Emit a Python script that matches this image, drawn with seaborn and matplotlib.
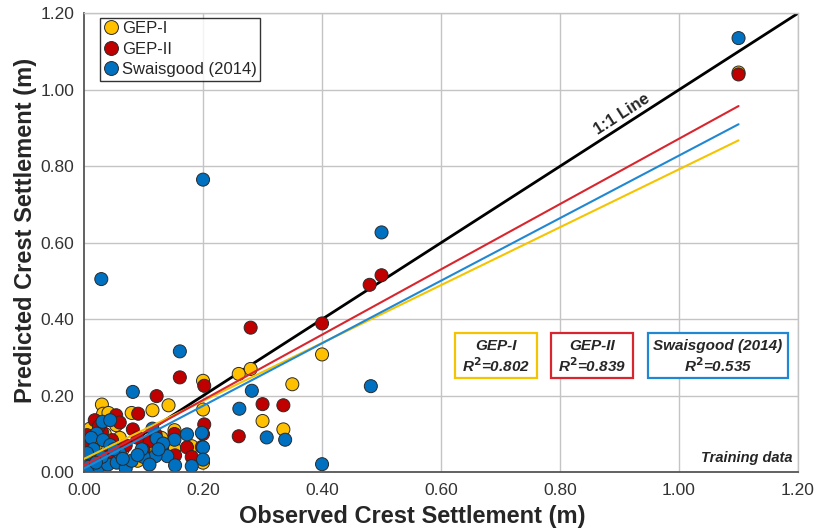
import numpy as np
import pandas as pd
import matplotlib
matplotlib.use("Agg")
import matplotlib.pyplot as plt
import seaborn as sns
from matplotlib.patches import Rectangle
from matplotlib.ticker import MultipleLocator

# ---------------- data ----------------
series_names = ["GEP-I", "GEP-II", "Swaisgood (2014)"]

gep1_obs = [1.10, 0.40, 0.28, 0.26, 0.35, 0.30, 0.335, 0.20, 0.20, 0.20, 0.142, 0.115,
            0.152, 0.152, 0.181, 0.030, 0.080, 0.032, 0.041, 0.054, 0.010, 0.002, 0.020,
            0.060, 0.045, 0.090, 0.110, 0.070, 0.020, 0.130, 0.100, 0.065, 0.035, 0.015]
gep1_pred = [1.045, 0.308, 0.270, 0.257, 0.230, 0.134, 0.112, 0.239, 0.164, 0.025, 0.175, 0.162,
             0.110, 0.062, 0.068, 0.177, 0.155, 0.153, 0.155, 0.123, 0.114, 0.058, 0.070,
             0.090, 0.040, 0.030, 0.050, 0.020, 0.030, 0.090, 0.070, 0.060, 0.100, 0.085]

gep2_obs = [1.10, 0.50, 0.48, 0.40, 0.28, 0.30, 0.335, 0.26, 0.161, 0.202, 0.122, 0.202,
            0.200, 0.110, 0.152, 0.131, 0.173, 0.198, 0.153, 0.181, 0.091, 0.082, 0.054,
            0.018, 0.005, 0.030, 0.047, 0.100, 0.025, 0.060, 0.070, 0.040, 0.010, 0.120, 0.090]
gep2_pred = [1.040, 0.515, 0.490, 0.389, 0.378, 0.178, 0.175, 0.094, 0.248, 0.226, 0.199, 0.125,
             0.100, 0.082, 0.100, 0.062, 0.065, 0.066, 0.044, 0.040, 0.153, 0.112, 0.149,
             0.136, 0.097, 0.105, 0.084, 0.058, 0.120, 0.130, 0.070, 0.050, 0.070, 0.100, 0.090]

swai_obs = [1.10, 0.20, 0.50, 0.029, 0.161, 0.482, 0.40, 0.282, 0.261, 0.307, 0.338, 0.082,
            0.198, 0.200, 0.200, 0.173, 0.115, 0.122, 0.152, 0.133, 0.140, 0.120, 0.181,
            0.153, 0.100, 0.031, 0.044, 0.021, 0.012, 0.032, 0.044, 0.016, 0.097, 0.002,
            0.007, 0.025, 0.040, 0.055, 0.070, 0.080, 0.060, 0.030, 0.090, 0.050, 0.005,
            0.110, 0.065, 0.125, 0.020]
swai_pred = [1.135, 0.765, 0.627, 0.505, 0.316, 0.225, 0.021, 0.213, 0.166, 0.091, 0.085, 0.210,
             0.103, 0.065, 0.033, 0.099, 0.114, 0.088, 0.085, 0.075, 0.042, 0.042, 0.016,
             0.018, 0.040, 0.132, 0.136, 0.101, 0.090, 0.084, 0.071, 0.060, 0.060, 0.036,
             0.014, 0.015, 0.020, 0.025, 0.010, 0.030, 0.050, 0.040, 0.045, 0.060, 0.050,
             0.020, 0.035, 0.060, 0.025]

# linear trend lines (slope, intercept) and R^2
fit_slope = [0.757, 0.854, 0.818]
fit_intercept = [0.035, 0.018, 0.010]
fit_xrange = [0.0, 1.10]
r2_values = ["0.802", "0.839", "0.535"]

ticks = [0.0, 0.2, 0.4, 0.6, 0.8, 1.0, 1.2]
tick_labels = ["0.00", "0.20", "0.40", "0.60", "0.80", "1.00", "1.20"]

# ---------------- styling ----------------
sns.set_style("white")
plt.rcParams["font.family"] = ["Liberation Sans", "DejaVu Sans"]

point_colors = ["#FFC000", "#C00000", "#0070C0"]
line_colors = ["#F5C400", "#D9262E", "#2088D2"]

df = pd.concat([
    pd.DataFrame({"obs": gep1_obs, "pred": gep1_pred, "Model": series_names[0]}),
    pd.DataFrame({"obs": gep2_obs, "pred": gep2_pred, "Model": series_names[1]}),
    pd.DataFrame({"obs": swai_obs, "pred": swai_pred, "Model": series_names[2]}),
], ignore_index=True)

fig = plt.figure(figsize=(8.16, 5.30), dpi=100)
ax = fig.add_axes([0.103, 0.109, 0.875, 0.866])

# grid
for t in ticks[1:]:
    ax.axvline(t, color="#C4C4C4", lw=1.0, zorder=0)
    ax.axhline(t, color="#C4C4C4", lw=1.0, zorder=0)

# 1:1 line
ax.plot([0, 1.2], [0, 1.2], color="black", lw=2.0, zorder=1)

sns.scatterplot(data=df, x="obs", y="pred", hue="Model", hue_order=series_names,
                palette=point_colors, s=88, edgecolor="#2a2a2a", linewidth=0.7,
                ax=ax, zorder=2, legend=True)

# trend lines
xr = np.array(fit_xrange)
for m, b, c in zip(fit_slope, fit_intercept, line_colors):
    ax.plot(xr, m * xr + b, color=c, lw=1.5, zorder=3)

ax.set_xlim(0, 1.2)
ax.set_ylim(0, 1.2)
ax.set_xticks(ticks)
ax.set_xticklabels(tick_labels)
ax.set_yticks(ticks)
ax.set_yticklabels(tick_labels)
ax.xaxis.set_minor_locator(MultipleLocator(0.05))
ax.yaxis.set_minor_locator(MultipleLocator(0.05))
ax.tick_params(axis="x", which="both", direction="in", length=4, color="#555555",
               labelsize=12.5, pad=8, labelcolor="#333333")
ax.tick_params(axis="y", which="both", direction="out", length=4, color="#555555",
               labelsize=12.5, pad=3, labelcolor="#333333")
ax.tick_params(axis="x", which="major", length=0)

for s in ["left", "bottom"]:
    ax.spines[s].set_color("#555555")
    ax.spines[s].set_linewidth(1.3)
for s in ["top", "right"]:
    ax.spines[s].set_color("#C4C4C4")
    ax.spines[s].set_linewidth(1.0)

ax.set_xlabel("Observed Crest Settlement (m)", fontsize=17, fontweight="bold")
ax.set_ylabel("Predicted Crest Settlement (m)", fontsize=17, fontweight="bold")
ax.xaxis.set_label_coords(0.46, -0.072)
ax.yaxis.set_label_coords(-0.066, 0.527)

# legend
handles, labels = ax.get_legend_handles_labels()
for h in handles:
    h.set_markersize(10)
leg = ax.legend(handles=handles, labels=labels, loc="upper left",
                bbox_to_anchor=(0.017, 0.997), frameon=True, fancybox=False,
                edgecolor="black", fontsize=12, handletextpad=0.15, handlelength=1.0,
                borderpad=0.2, labelspacing=0.33, borderaxespad=0.2)
leg.get_frame().set_linewidth(1.0)

# 1:1 label
ax.text(0.905, 0.935, "1:1 Line", rotation=32.7, rotation_mode="anchor",
        ha="center", va="center", fontsize=12, fontweight="bold", zorder=4)

# R2 boxes
boxes = [(0.624, 0.761), (0.785, 0.923), (0.948, 1.183)]
y0, y1 = 0.246, 0.363
for (xa, xb), c, name, r2 in zip(boxes, line_colors, series_names, r2_values):
    ax.add_patch(Rectangle((xa, y0), xb - xa, y1 - y0, facecolor="white",
                           edgecolor=c, lw=1.6, zorder=5))
    xc = (xa + xb) / 2
    ax.text(xc, 0.330, name, ha="center", va="center", fontsize=11,
            fontweight="bold", fontstyle="italic", zorder=6)
    ax.text(xc, 0.278, f"R$^{{\\mathbf{{2}}}}$={r2}", ha="center", va="center",
            fontsize=11, fontweight="bold", fontstyle="italic", zorder=6)

ax.text(1.19, 0.038, "Training data", ha="right", va="center", fontsize=10.5,
        fontweight="bold", fontstyle="italic", zorder=6)

fig.savefig("out.png", dpi=100)
